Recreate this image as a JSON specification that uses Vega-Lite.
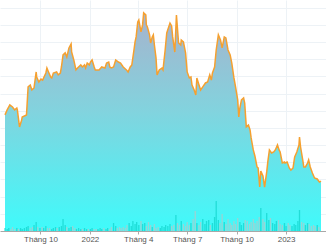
{
  "$schema": "https://vega.github.io/schema/vega-lite/v6.json",
  "width": 326,
  "height": 231,
  "autosize": {"type": "none"},
  "padding": {"left": 0, "top": 0, "right": 0, "bottom": 14},
  "background": "white",
  "config": {
    "view": {"stroke": null},
    "axis": {"labelFont": "Liberation Sans", "labelFontSize": 8, "labelColor": "#555555"}
  },
  "datasets": {
    "price": [
      {"date":"2021-07-27","close":67.6},{"date":"2021-07-31","close":70.5},{"date":"2021-08-05","close":73.4},{"date":"2021-08-10","close":72.2},{"date":"2021-08-14","close":70.5},{"date":"2021-08-18","close":71.6},{"date":"2021-08-19","close":70.5},{"date":"2021-08-23","close":60.6},{"date":"2021-08-27","close":64.6},{"date":"2021-08-28","close":66.4},{"date":"2021-09-05","close":67.6},{"date":"2021-09-08","close":83.9},{"date":"2021-09-12","close":85.0},{"date":"2021-09-15","close":82.1},{"date":"2021-09-19","close":83.3},{"date":"2021-09-23","close":92.6},{"date":"2021-09-24","close":89.7},{"date":"2021-09-28","close":86.8},{"date":"2021-10-02","close":88.5},{"date":"2021-10-05","close":87.9},{"date":"2021-10-11","close":92.0},{"date":"2021-10-13","close":94.9},{"date":"2021-10-16","close":92.6},{"date":"2021-10-20","close":89.7},{"date":"2021-10-22","close":89.1},{"date":"2021-10-25","close":92.0},{"date":"2021-10-31","close":92.6},{"date":"2021-11-03","close":90.9},{"date":"2021-11-07","close":92.0},{"date":"2021-11-09","close":95.5},{"date":"2021-11-12","close":102.5},{"date":"2021-11-16","close":103.7},{"date":"2021-11-19","close":101.3},{"date":"2021-11-23","close":106.6},{"date":"2021-11-27","close":108.9},{"date":"2021-11-28","close":104.2},{"date":"2021-12-02","close":99.6},{"date":"2021-12-06","close":93.8},{"date":"2021-12-09","close":94.9},{"date":"2021-12-15","close":96.7},{"date":"2021-12-18","close":95.5},{"date":"2021-12-22","close":96.7},{"date":"2021-12-24","close":94.9},{"date":"2021-12-27","close":97.8},{"date":"2021-12-31","close":96.7},{"date":"2022-01-02","close":98.4},{"date":"2022-01-05","close":99.6},{"date":"2022-01-09","close":95.5},{"date":"2022-01-11","close":93.8},{"date":"2022-01-18","close":93.8},{"date":"2022-01-23","close":95.5},{"date":"2022-01-29","close":94.9},{"date":"2022-02-01","close":97.8},{"date":"2022-02-05","close":98.4},{"date":"2022-02-07","close":95.5},{"date":"2022-02-10","close":94.9},{"date":"2022-02-14","close":95.5},{"date":"2022-02-18","close":99.6},{"date":"2022-02-23","close":98.4},{"date":"2022-02-27","close":97.8},{"date":"2022-03-04","close":95.5},{"date":"2022-03-10","close":93.8},{"date":"2022-03-13","close":92.6},{"date":"2022-03-17","close":95.5},{"date":"2022-03-20","close":96.7},{"date":"2022-03-24","close":105.4},{"date":"2022-03-26","close":110.1},{"date":"2022-03-28","close":113.0},{"date":"2022-03-31","close":121.7},{"date":"2022-04-02","close":122.9},{"date":"2022-04-06","close":115.9},{"date":"2022-04-09","close":120.0},{"date":"2022-04-11","close":127.0},{"date":"2022-04-15","close":125.8},{"date":"2022-04-16","close":120.0},{"date":"2022-04-18","close":118.8},{"date":"2022-04-22","close":114.2},{"date":"2022-04-24","close":109.5},{"date":"2022-04-27","close":113.0},{"date":"2022-04-29","close":114.2},{"date":"2022-05-01","close":108.3},{"date":"2022-05-04","close":100.8},{"date":"2022-05-06","close":90.9},{"date":"2022-05-10","close":93.8},{"date":"2022-05-15","close":94.9},{"date":"2022-05-17","close":93.8},{"date":"2022-05-21","close":105.4},{"date":"2022-05-24","close":115.3},{"date":"2022-05-30","close":121.1},{"date":"2022-06-02","close":119.4},{"date":"2022-06-04","close":113.0},{"date":"2022-06-08","close":104.2},{"date":"2022-06-11","close":125.8},{"date":"2022-06-15","close":109.5},{"date":"2022-06-19","close":108.3},{"date":"2022-06-20","close":111.2},{"date":"2022-06-24","close":110.1},{"date":"2022-06-28","close":103.7},{"date":"2022-07-01","close":92.6},{"date":"2022-07-05","close":89.1},{"date":"2022-07-08","close":89.7},{"date":"2022-07-10","close":85.0},{"date":"2022-07-14","close":82.1},{"date":"2022-07-17","close":79.2},{"date":"2022-07-19","close":89.1},{"date":"2022-07-23","close":85.0},{"date":"2022-07-26","close":82.1},{"date":"2022-07-30","close":83.9},{"date":"2022-08-04","close":86.2},{"date":"2022-08-08","close":86.8},{"date":"2022-08-12","close":90.9},{"date":"2022-08-15","close":87.9},{"date":"2022-08-17","close":92.0},{"date":"2022-08-21","close":95.5},{"date":"2022-08-24","close":105.4},{"date":"2022-08-28","close":114.2},{"date":"2022-09-01","close":111.2},{"date":"2022-09-04","close":106.6},{"date":"2022-09-08","close":113.0},{"date":"2022-09-11","close":112.4},{"date":"2022-09-15","close":105.4},{"date":"2022-09-19","close":102.5},{"date":"2022-09-22","close":97.8},{"date":"2022-09-26","close":89.1},{"date":"2022-09-29","close":83.9},{"date":"2022-10-03","close":76.3},{"date":"2022-10-05","close":66.4},{"date":"2022-10-07","close":71.6},{"date":"2022-10-10","close":76.3},{"date":"2022-10-14","close":77.5},{"date":"2022-10-16","close":74.5},{"date":"2022-10-19","close":60.6},{"date":"2022-10-23","close":61.7},{"date":"2022-10-26","close":58.8},{"date":"2022-10-28","close":54.2},{"date":"2022-11-01","close":47.2},{"date":"2022-11-04","close":43.7},{"date":"2022-11-08","close":37.3},{"date":"2022-11-10","close":36.7},{"date":"2022-11-13","close":25.6},{"date":"2022-11-15","close":34.9},{"date":"2022-11-19","close":32.0},{"date":"2022-11-22","close":25.6},{"date":"2022-11-26","close":34.4},{"date":"2022-11-28","close":40.2},{"date":"2022-12-01","close":47.2},{"date":"2022-12-05","close":45.4},{"date":"2022-12-09","close":46.0},{"date":"2022-12-12","close":47.2},{"date":"2022-12-16","close":50.1},{"date":"2022-12-19","close":47.2},{"date":"2022-12-21","close":46.0},{"date":"2022-12-25","close":39.6},{"date":"2022-12-29","close":40.2},{"date":"2022-12-30","close":39.6},{"date":"2023-01-03","close":40.2},{"date":"2023-01-07","close":36.7},{"date":"2023-01-10","close":35.5},{"date":"2023-01-14","close":36.7},{"date":"2023-01-17","close":43.1},{"date":"2023-01-21","close":46.0},{"date":"2023-01-25","close":50.1},{"date":"2023-01-26","close":54.7},{"date":"2023-01-28","close":48.9},{"date":"2023-02-01","close":41.4},{"date":"2023-02-03","close":37.3},{"date":"2023-02-06","close":37.3},{"date":"2023-02-10","close":39.6},{"date":"2023-02-12","close":41.4},{"date":"2023-02-15","close":37.3},{"date":"2023-02-19","close":33.8},{"date":"2023-02-23","close":30.9},{"date":"2023-02-28","close":30.3},{"date":"2023-03-04","close":28.5},{"date":"2023-03-07","close":29.1}
    ],
    "vol": [
      {"date":"2021-07-27","volume":30,"dir":"up"},{"date":"2021-07-31","volume":20,"dir":"up"},{"date":"2021-08-03","volume":30,"dir":"up"},{"date":"2021-08-07","volume":20,"dir":"down"},{"date":"2021-08-10","volume":40,"dir":"down"},{"date":"2021-08-14","volume":20,"dir":"down"},{"date":"2021-08-18","volume":30,"dir":"up"},{"date":"2021-08-21","volume":20,"dir":"down"},{"date":"2021-08-25","volume":30,"dir":"up"},{"date":"2021-08-28","volume":20,"dir":"up"},{"date":"2021-09-01","volume":30,"dir":"up"},{"date":"2021-09-05","volume":40,"dir":"up"},{"date":"2021-09-08","volume":50,"dir":"up"},{"date":"2021-09-12","volume":30,"dir":"down"},{"date":"2021-09-16","volume":40,"dir":"down"},{"date":"2021-09-19","volume":60,"dir":"up"},{"date":"2021-09-23","volume":90,"dir":"up"},{"date":"2021-09-26","volume":40,"dir":"down"},{"date":"2021-09-30","volume":30,"dir":"up"},{"date":"2021-10-04","volume":40,"dir":"down"},{"date":"2021-10-07","volume":30,"dir":"up"},{"date":"2021-10-11","volume":50,"dir":"up"},{"date":"2021-10-14","volume":30,"dir":"down"},{"date":"2021-10-18","volume":30,"dir":"down"},{"date":"2021-10-22","volume":20,"dir":"up"},{"date":"2021-10-25","volume":30,"dir":"up"},{"date":"2021-10-29","volume":40,"dir":"up"},{"date":"2021-11-01","volume":30,"dir":"down"},{"date":"2021-11-05","volume":40,"dir":"up"},{"date":"2021-11-09","volume":50,"dir":"up"},{"date":"2021-11-12","volume":120,"dir":"up"},{"date":"2021-11-16","volume":60,"dir":"up"},{"date":"2021-11-19","volume":40,"dir":"down"},{"date":"2021-11-23","volume":30,"dir":"up"},{"date":"2021-11-27","volume":40,"dir":"up"},{"date":"2021-11-30","volume":50,"dir":"down"},{"date":"2021-12-04","volume":30,"dir":"down"},{"date":"2021-12-07","volume":20,"dir":"up"},{"date":"2021-12-11","volume":30,"dir":"up"},{"date":"2021-12-15","volume":20,"dir":"up"},{"date":"2021-12-18","volume":20,"dir":"down"},{"date":"2021-12-22","volume":30,"dir":"up"},{"date":"2021-12-26","volume":20,"dir":"up"},{"date":"2021-12-29","volume":20,"dir":"down"},{"date":"2022-01-02","volume":20,"dir":"up"},{"date":"2022-01-05","volume":30,"dir":"up"},{"date":"2022-01-09","volume":20,"dir":"down"},{"date":"2022-01-13","volume":20,"dir":"down"},{"date":"2022-01-16","volume":20,"dir":"up"},{"date":"2022-01-20","volume":30,"dir":"up"},{"date":"2022-01-23","volume":20,"dir":"up"},{"date":"2022-01-27","volume":30,"dir":"down"},{"date":"2022-01-31","volume":20,"dir":"up"},{"date":"2022-02-03","volume":30,"dir":"up"},{"date":"2022-02-07","volume":20,"dir":"down"},{"date":"2022-02-10","volume":40,"dir":"down"},{"date":"2022-02-14","volume":80,"dir":"up"},{"date":"2022-02-18","volume":50,"dir":"up"},{"date":"2022-02-21","volume":30,"dir":"down"},{"date":"2022-02-25","volume":40,"dir":"down"},{"date":"2022-02-28","volume":30,"dir":"down"},{"date":"2022-03-04","volume":40,"dir":"down"},{"date":"2022-03-08","volume":30,"dir":"down"},{"date":"2022-03-11","volume":60,"dir":"down"},{"date":"2022-03-15","volume":80,"dir":"up"},{"date":"2022-03-19","volume":50,"dir":"up"},{"date":"2022-03-22","volume":100,"dir":"up"},{"date":"2022-03-26","volume":70,"dir":"up"},{"date":"2022-03-29","volume":90,"dir":"up"},{"date":"2022-04-02","volume":60,"dir":"up"},{"date":"2022-04-06","volume":100,"dir":"down"},{"date":"2022-04-09","volume":70,"dir":"up"},{"date":"2022-04-13","volume":80,"dir":"up"},{"date":"2022-04-16","volume":50,"dir":"down"},{"date":"2022-04-20","volume":90,"dir":"down"},{"date":"2022-04-24","volume":60,"dir":"down"},{"date":"2022-04-27","volume":40,"dir":"up"},{"date":"2022-05-01","volume":70,"dir":"down"},{"date":"2022-05-04","volume":30,"dir":"down"},{"date":"2022-05-08","volume":40,"dir":"down"},{"date":"2022-05-12","volume":30,"dir":"up"},{"date":"2022-05-15","volume":50,"dir":"up"},{"date":"2022-05-19","volume":40,"dir":"up"},{"date":"2022-05-22","volume":60,"dir":"up"},{"date":"2022-05-26","volume":50,"dir":"up"},{"date":"2022-05-30","volume":70,"dir":"up"},{"date":"2022-06-02","volume":50,"dir":"down"},{"date":"2022-06-06","volume":60,"dir":"down"},{"date":"2022-06-10","volume":160,"dir":"up"},{"date":"2022-06-13","volume":80,"dir":"down"},{"date":"2022-06-17","volume":60,"dir":"down"},{"date":"2022-06-20","volume":100,"dir":"up"},{"date":"2022-06-24","volume":70,"dir":"down"},{"date":"2022-06-28","volume":50,"dir":"down"},{"date":"2022-07-01","volume":90,"dir":"down"},{"date":"2022-07-05","volume":60,"dir":"down"},{"date":"2022-07-08","volume":80,"dir":"up"},{"date":"2022-07-12","volume":120,"dir":"down"},{"date":"2022-07-16","volume":200,"dir":"down"},{"date":"2022-07-19","volume":80,"dir":"up"},{"date":"2022-07-23","volume":60,"dir":"down"},{"date":"2022-07-26","volume":90,"dir":"down"},{"date":"2022-07-30","volume":120,"dir":"up"},{"date":"2022-08-03","volume":70,"dir":"up"},{"date":"2022-08-06","volume":100,"dir":"up"},{"date":"2022-08-10","volume":110,"dir":"up"},{"date":"2022-08-13","volume":60,"dir":"down"},{"date":"2022-08-17","volume":80,"dir":"up"},{"date":"2022-08-21","volume":140,"dir":"up"},{"date":"2022-08-24","volume":300,"dir":"up"},{"date":"2022-08-28","volume":110,"dir":"up"},{"date":"2022-08-31","volume":80,"dir":"down"},{"date":"2022-09-04","volume":170,"dir":"down"},{"date":"2022-09-08","volume":90,"dir":"up"},{"date":"2022-09-11","volume":70,"dir":"down"},{"date":"2022-09-15","volume":120,"dir":"down"},{"date":"2022-09-19","volume":80,"dir":"down"},{"date":"2022-09-22","volume":60,"dir":"down"},{"date":"2022-09-26","volume":100,"dir":"down"},{"date":"2022-09-29","volume":70,"dir":"down"},{"date":"2022-10-03","volume":130,"dir":"down"},{"date":"2022-10-07","volume":90,"dir":"up"},{"date":"2022-10-10","volume":60,"dir":"up"},{"date":"2022-10-14","volume":80,"dir":"up"},{"date":"2022-10-17","volume":110,"dir":"down"},{"date":"2022-10-21","volume":100,"dir":"down"},{"date":"2022-10-25","volume":70,"dir":"down"},{"date":"2022-10-28","volume":90,"dir":"down"},{"date":"2022-11-01","volume":120,"dir":"down"},{"date":"2022-11-04","volume":80,"dir":"down"},{"date":"2022-11-08","volume":100,"dir":"down"},{"date":"2022-11-12","volume":140,"dir":"down"},{"date":"2022-11-15","volume":230,"dir":"up"},{"date":"2022-11-19","volume":120,"dir":"down"},{"date":"2022-11-22","volume":90,"dir":"down"},{"date":"2022-11-26","volume":180,"dir":"up"},{"date":"2022-11-30","volume":110,"dir":"up"},{"date":"2022-12-03","volume":130,"dir":"down"},{"date":"2022-12-07","volume":80,"dir":"up"},{"date":"2022-12-11","volume":70,"dir":"up"},{"date":"2022-12-14","volume":100,"dir":"up"},{"date":"2022-12-18","volume":110,"dir":"down"},{"date":"2022-12-21","volume":70,"dir":"down"},{"date":"2022-12-25","volume":60,"dir":"down"},{"date":"2022-12-29","volume":80,"dir":"up"},{"date":"2023-01-01","volume":50,"dir":"up"},{"date":"2023-01-05","volume":80,"dir":"down"},{"date":"2023-01-08","volume":60,"dir":"down"},{"date":"2023-01-12","volume":50,"dir":"up"},{"date":"2023-01-16","volume":70,"dir":"up"},{"date":"2023-01-19","volume":60,"dir":"up"},{"date":"2023-01-23","volume":100,"dir":"up"},{"date":"2023-01-26","volume":210,"dir":"up"},{"date":"2023-01-30","volume":90,"dir":"down"},{"date":"2023-02-03","volume":80,"dir":"down"},{"date":"2023-02-06","volume":60,"dir":"up"},{"date":"2023-02-10","volume":80,"dir":"up"},{"date":"2023-02-13","volume":70,"dir":"down"},{"date":"2023-02-17","volume":50,"dir":"down"},{"date":"2023-02-21","volume":60,"dir":"down"},{"date":"2023-02-24","volume":50,"dir":"down"},{"date":"2023-02-28","volume":60,"dir":"up"},{"date":"2023-03-03","volume":40,"dir":"down"}
    ]
  },
  "layer": [
    {
      "data": {"name": "price"},
      "mark": {
        "type": "area",
        "fill": {
          "gradient": "linear", "x1": 0, "y1": 0, "x2": 0, "y2": 1,
          "stops": [
            {"offset": 0, "color": "#a7b2cc"},
            {"offset": 0.45, "color": "#82d3de"},
            {"offset": 1, "color": "#3ffbfb"}
          ]
        },
        "stroke": null
      },
      "encoding": {
        "x": {
          "field": "date", "type": "temporal",
          "scale": {"type": "utc", "domain": [{"year": 2021, "month": 7, "date": 27, "utc": true}, {"year": 2023, "month": 3, "date": 7, "utc": true}], "nice": false},
          "axis": {
            "title": null,
            "values": [
              {"year": 2021, "month": 10, "date": 1, "utc": true},
              {"year": 2022, "month": 1, "date": 1, "utc": true},
              {"year": 2022, "month": 4, "date": 1, "utc": true},
              {"year": 2022, "month": 7, "date": 1, "utc": true},
              {"year": 2022, "month": 10, "date": 1, "utc": true},
              {"year": 2023, "month": 1, "date": 1, "utc": true}
            ],
            "labelExpr": "utcmonth(datum.value) == 0 ? utcFormat(datum.value, '%Y') : 'Tháng ' + (utcmonth(datum.value) + 1)",
            "tickSize": 3, "tickColor": "#aaaaaa", "labelPadding": 1,
            "domainColor": "#a8a8a8", "domainWidth": 1.2,
            "grid": true, "gridColor": "#edf2f6", "zindex": 0
          }
        },
        "y": {
          "field": "close", "type": "quantitative",
          "scale": {"domain": [0, 134.5], "nice": false, "zero": true},
          "axis": {"title": null, "labels": false, "ticks": false, "domain": false, "grid": true, "gridColor": "#edf2f6", "zindex": 0, "values": [10, 20, 30, 40, 50, 60, 70, 80, 90, 100, 110, 120, 130]}
        }
      }
    },
    {
      "data": {"name": "vol"},
      "mark": {"type": "bar", "size": 1.3, "opacity": 0.75},
      "encoding": {
        "x": {"field": "date", "type": "temporal", "scale": {"type": "utc"}},
        "y": {"field": "volume", "type": "quantitative", "scale": {"domain": [0, 2310], "nice": false}, "axis": null},
        "color": {"field": "dir", "type": "nominal", "scale": {"domain": ["up", "down"], "range": ["#14d4cc", "#b4c8c8"]}, "legend": null}
      }
    },
    {
      "data": {"name": "price"},
      "mark": {"type": "line", "color": "#f5a030", "strokeWidth": 1.5},
      "encoding": {
        "x": {"field": "date", "type": "temporal", "scale": {"type": "utc"}},
        "y": {"field": "close", "type": "quantitative", "scale": {"domain": [0, 134.5], "nice": false, "zero": true}, "axis": null}
      }
    }
  ],
  "resolve": {"scale": {"y": "independent"}}
}
